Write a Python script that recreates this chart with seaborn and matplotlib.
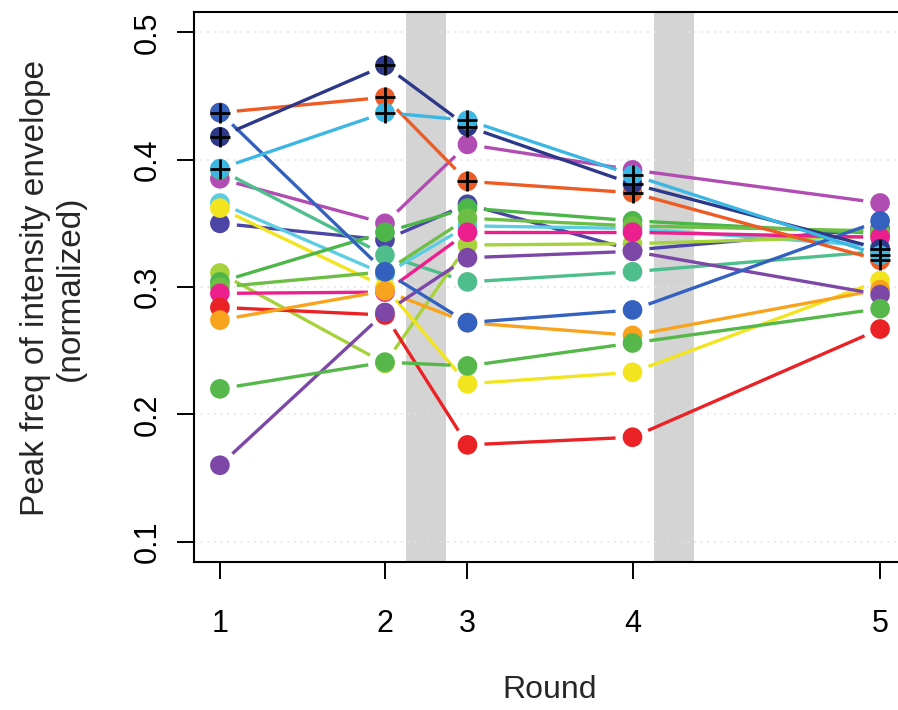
import numpy as np
import pandas as pd
import matplotlib
matplotlib.use("Agg")
import matplotlib.pyplot as plt
import seaborn as sns

# rounds are not evenly spaced on the x axis
round_labels = ["1", "2", "3", "4", "5"]
round_pos = [0, 1, 1.5, 2.5, 4]
y_ticks = [0.1, 0.2, 0.3, 0.4, 0.5]
break_bands = [(1.13, 1.37), (2.63, 2.87)]

# one list per subject: peak freq at rounds 1..5
orchid    = [0.385, 0.350, 0.412, 0.392, 0.366]
indigo    = [0.350, 0.337, 0.365, 0.329, 0.346]
teal      = [0.392, 0.325, 0.304, 0.312, 0.328]
lightcyan = [0.366, 0.310, 0.348, 0.346, 0.332]
lime      = [0.311, 0.240, 0.333, 0.334, 0.340]
yellow    = [0.362, 0.300, 0.224, 0.233, 0.305]
green_a   = [0.304, 0.343, 0.362, 0.352, 0.342]
green_b   = [0.300, 0.312, 0.354, 0.348, 0.344]
pink      = [0.295, 0.296, 0.343, 0.343, 0.339]
red       = [0.284, 0.278, 0.176, 0.182, 0.267]
orange    = [0.274, 0.297, 0.272, 0.262, 0.298]
purple    = [0.160, 0.280, 0.323, 0.328, 0.294]
green_c   = [0.220, 0.241, 0.238, 0.256, 0.283]
blue      = [0.437, 0.312, 0.272, 0.282, 0.352]
orangered = [0.437, 0.449, 0.383, 0.374, 0.321]
navy      = [0.418, 0.474, 0.426, 0.381, 0.330]
cyan      = [0.393, 0.437, 0.431, 0.388, 0.325]

series = {
    "orchid": orchid, "indigo": indigo, "teal": teal, "lightcyan": lightcyan,
    "lime": lime, "yellow": yellow, "green_a": green_a, "green_b": green_b,
    "pink": pink, "red": red, "orange": orange, "purple": purple,
    "green_c": green_c, "orangered": orangered, "blue": blue,
    "navy": navy, "cyan": cyan,
}
colors = {
    "orchid": "#B14DB2", "indigo": "#4C45A6", "teal": "#4DBE8C",
    "lightcyan": "#5CCDE2", "lime": "#A6D23C", "yellow": "#F2E41E",
    "green_a": "#4DB648", "green_b": "#6CBE45", "pink": "#EC1F8E",
    "red": "#EA2226", "orange": "#F8A31E", "purple": "#7D47A7",
    "green_c": "#56B84A", "orangered": "#EE5B24", "blue": "#3461BF",
    "navy": "#2D3889", "cyan": "#3CB6E2",
}
marked = ["orangered", "navy", "cyan"]  # subjects flagged with a cross

df = pd.DataFrame([
    {"subject": name, "pos": p, "value": v}
    for name, vals in series.items()
    for p, v in zip(round_pos, vals)
])

sns.set_style("ticks")
plt.rcParams["font.family"] = ["Liberation Sans", "DejaVu Sans"]

W, H = 898, 710
fig = plt.figure(figsize=(W / 100, H / 100), dpi=100)
left, right, top, bottom = 193.5, 906.5, 12, 562
ax = fig.add_axes([left / W, 1 - bottom / H, (right - left) / W, (bottom - top) / H])

ax.set_xlim(-0.16, 4.16)
ax.set_ylim(0.084, 0.516)

# grey break bands
for a, b in break_bands:
    ax.axvspan(a, b, color="#D4D4D4", lw=0, zorder=0)

# faint dotted grid
for yv in y_ticks:
    ax.axhline(yv, color="#E2E2E2", lw=1.2, ls=(0, (1, 3)), zorder=0.5)

# lines with a gap around each point (like R type="b")
gap = 17
inv = ax.transData.inverted()
for name, vals in series.items():
    pts = ax.transData.transform(np.column_stack([round_pos, vals]))
    for a, b in zip(pts[:-1], pts[1:]):
        d = b - a
        L = np.hypot(*d)
        if L <= 2 * gap:
            continue
        u = d / L
        seg = inv.transform(np.array([a + u * gap, b - u * gap]))
        ax.plot(seg[:, 0], seg[:, 1], color=colors[name], lw=2.4,
                solid_capstyle="butt", zorder=2)

sns.scatterplot(data=df, x="pos", y="value", hue="subject", palette=colors,
                hue_order=list(series.keys()), s=200, edgecolor="none",
                legend=False, ax=ax, zorder=3)

crosses = df[df["subject"].isin(marked)]
ax.scatter(crosses["pos"], crosses["value"], marker="+", s=200,
           color="black", linewidths=2.0, zorder=4)

ax.set_xticks(round_pos)
ax.set_xticklabels(round_labels)
ax.set_yticks(y_ticks)
ax.set_yticklabels([f"{t:.1f}" for t in y_ticks], rotation=90, va="center")
ax.tick_params(axis="both", length=12, width=1.4, direction="out",
               labelsize=22, colors="black")
ax.tick_params(axis="x", pad=22)
ax.tick_params(axis="y", pad=10)
ax.set_xlabel("")
ax.set_ylabel("")
for sp in ax.spines.values():
    sp.set_visible(True)
    sp.set_linewidth(1.5)
    sp.set_color("black")

fig.text(549.5 / W, 1 - 690 / H, "Round", ha="center", va="center", fontsize=23)
fig.text(53 / W, 1 - 288 / H, "Peak freq of intensity envelope\n(normalized)",
         ha="center", va="center", rotation=90, fontsize=24,
         multialignment="center", linespacing=1.15)

fig.savefig("out.png", dpi=100)
